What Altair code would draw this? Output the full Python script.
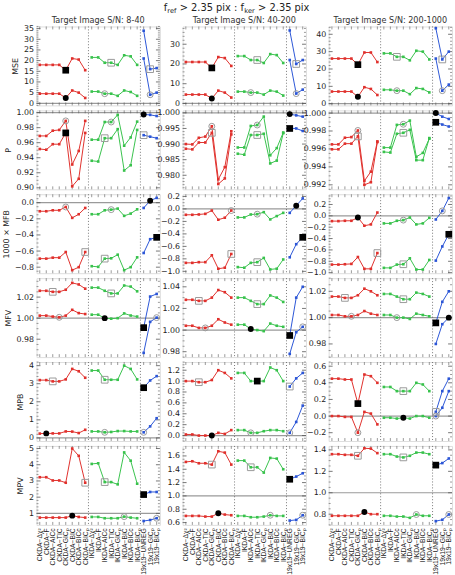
import altair as alt
import pandas as pd

FONT = "DejaVu Sans"
LABEL_FONT = "Liberation Sans"

LABELS = ["CKDA−Δχ²", "CKDA−F", "CKDA−AICc", "CKDA−TIC", "CKDA−GICₚ", "CKDA−BIC", "CKDA−BICc", "CKDA−BICₚ",
          "IKDA−Δχ²", "IKDA−F", "IKDA−AICc", "IKDA−TIC", "IKDA−GICₚ", "IKDA−BIC", "IKDA−BICc", "IKDA−BICₚ",
          "19x19−UNREG", "19x19−GICₚ", "19x19−BICₚ"]
GROUP = ["CKDA"] * 8 + ["IKDA"] * 8 + ["19x19"] * 3
GROUP_NAMES = ["CKDA", "IKDA", "19x19"]
GROUP_COLORS = ["#e0302c", "#38c24c", "#2b55d6"]
SEPARATORS = [7.5, 15.5]

ROWS = ["MSE", "P", "MFB", "MFV", "MPB", "MPV"]
ROW_TITLES = ["MSE", "P", "1000 × MFB", "MFV", "MPB", "MPV"]
COLUMN_TITLES = ["Target Image S/N: 8-40", "Target Image S/N: 40-200", "Target Image S/N: 200-1000"]
REFERENCE = {"MSE": 0, "P": 1, "MFB": 0, "MFV": 1, "MPB": 0, "MPV": 1}
# marker shape of the upper / lower curve of each statistic
SHAPE_HI = {"MSE": "square", "P": "circle", "MFB": "circle", "MFV": "square", "MPB": "square", "MPV": "square"}

# ---- MSE ----
MSE1_HI = [18, 18, 18, 18, 15.5, 21, 20.5, 15.5, 21.5, 21.5, 19, 19, 18, 22.5, 22, 18, 34, 16, 16.5]
MSE1_LO = [4.5, 4.5, 4.5, 4.5, 2.5, 6, 5, 2.5, 5.5, 5.5, 4.5, 4.5, 3.5, 6, 5.3, 3.5, 21, 4, 5]
MSE2_HI = [21, 21, 21, 21, 18, 23.5, 23, 19, 24, 24, 22, 22, 20.5, 25, 24.5, 20.5, 37, 20, 22]
MSE2_LO = [4.5, 4.5, 4.5, 4.5, 2.5, 6.5, 5.5, 3, 6, 6, 5.5, 5.5, 4.5, 6.5, 6, 4, 22, 5, 7]
MSE3_HI = [26, 26, 26, 26, 22.5, 29.5, 29.5, 24, 29, 29, 27, 27, 25, 30.5, 30, 25.5, 43.5, 25.5, 30]
MSE3_LO = [7, 7, 7, 7, 4, 9.5, 8.5, 5, 8, 8, 7.5, 7.5, 5.5, 9, 8.5, 6.5, 26, 7.5, 11]

# ---- P ----
P1_HI = [0.969, 0.969, 0.976, 0.977, 0.989, 0.931, 0.949, 0.989, 0.964, 0.964, 0.9875, 0.9875, 0.997, 0.956, 0.967, 0.988, 0.9975, 0.997, 0.9955]
P1_LO = [0.9516, 0.9507, 0.958, 0.958, 0.973, 0.902, 0.912, 0.973, 0.936, 0.935, 0.966, 0.966, 0.978, 0.923, 0.930, 0.977, 0.970, 0.968, 0.966]
P2_HI = [0.9900, 0.9899, 0.9920, 0.9924, 0.9957, 0.9787, 0.9826, 0.9941, 0.9889, 0.9889, 0.9958, 0.9961, 0.9988, 0.9864, 0.9887, 0.9937, 0.9996, 0.9992, 0.9988]
P2_LO = [0.9885, 0.9883, 0.9905, 0.9905, 0.9936, 0.9772, 0.9790, 0.9931, 0.9869, 0.9866, 0.9929, 0.9929, 0.9933, 0.9838, 0.9847, 0.9935, 0.9950, 0.9950, 0.9942]
P3_HI = [0.99651, 0.99651, 0.99725, 0.99732, 0.99806, 0.99244, 0.99347, 0.99684, 0.99615, 0.99615, 0.99868, 0.99875, 0.99916, 0.99512, 0.99556, 0.99714, 1.0000, 0.9996, 0.99934]
P3_LO = [0.99596, 0.99596, 0.99659, 0.99659, 0.9974, 0.9920, 0.99229, 0.99677, 0.99567, 0.9956, 0.99769, 0.9978, 0.99813, 0.99475, 0.99475, 0.99721, 0.99897, 0.99872, 0.9985]

# ---- 1000 x MFB ----
MFB1_HI = [-0.106, -0.106, -0.094, -0.094, -0.053, -0.188, -0.143, -0.065, -0.143, -0.143, -0.094, -0.086, -0.073, -0.163, -0.135, -0.082, -0.065, 0.025, 0.06]
MFB1_LO = [-0.694, -0.694, -0.682, -0.682, -0.612, -0.837, -0.80, -0.612, -0.788, -0.796, -0.694, -0.69, -0.645, -0.837, -0.80, -0.678, -0.624, -0.453, -0.43]
MFB2_HI = [-0.094, -0.094, -0.089, -0.079, -0.026, -0.173, -0.141, -0.026, -0.136, -0.136, -0.089, -0.084, -0.052, -0.168, -0.115, -0.063, -0.063, 0.052, 0.168]
MFB2_LO = [-0.864, -0.864, -0.853, -0.853, -0.743, -0.958, -0.942, -0.722, -0.932, -0.942, -0.864, -0.853, -0.785, -0.969, -0.958, -0.81, -0.775, -0.565, -0.455]
MFB3_HI = [-0.093, -0.093, -0.087, -0.087, -0.029, -0.174, -0.151, 0.058, -0.133, -0.133, -0.087, -0.075, -0.029, -0.151, -0.133, -0.035, -0.064, 0.087, 0.313]
MFB3_LO = [-0.858, -0.858, -0.852, -0.846, -0.725, -0.933, -0.933, -0.655, -0.916, -0.916, -0.858, -0.852, -0.748, -0.945, -0.945, -0.777, -0.788, -0.539, -0.325]

# ---- MFV ----
MFV1_HI = [1.026, 1.026, 1.025, 1.025, 1.027, 1.0335, 1.032, 1.028, 1.029, 1.029, 1.026, 1.0235, 1.0235, 1.031, 1.030, 1.0255, 0.991, 1.0205, 1.023]
MFV1_LO = [1.0024, 1.0024, 1.0015, 1.0008, 1.0024, 1.0079, 1.0048, 1.0039, 1.0033, 1.0033, 1.0, 0.9995, 1.0, 1.0045, 1.0025, 1.0015, 0.967, 0.9965, 1.0005]
MFV2_HI = [1.028, 1.028, 1.027, 1.027, 1.030, 1.037, 1.035, 1.030, 1.030, 1.030, 1.027, 1.024, 1.024, 1.032, 1.030, 1.026, 0.995, 1.030, 1.040]
MFV2_LO = [1.004, 1.004, 1.002, 1.002, 1.004, 1.010, 1.007, 1.005, 1.005, 1.005, 1.001, 1.000, 0.999, 1.006, 1.004, 1.003, 0.978, 0.998, 1.003]
MFV3_HI = [1.016, 1.016, 1.015, 1.015, 1.017, 1.022, 1.020, 1.017, 1.018, 1.018, 1.016, 1.014, 1.014, 1.019, 1.018, 1.016, 0.996, 1.012, 1.020]
MFV3_LO = [1.002, 1.002, 1.001, 1.001, 1.002, 1.005, 1.003, 1.002, 1.002, 1.002, 1.000, 1.000, 0.999, 1.003, 1.002, 1.001, 0.980, 0.995, 1.000]

# ---- MPB ----
MPB1_HI = [3.2, 3.2, 3.13, 3.13, 3.24, 3.82, 3.69, 3.33, 3.73, 3.73, 3.22, 3.22, 3.22, 4.0, 3.82, 3.24, 2.78, 3.18, 3.42]
MPB1_LO = [0.24, 0.25, 0.25, 0.25, 0.36, 0.35, 0.27, 0.45, 0.36, 0.36, 0.31, 0.33, 0.38, 0.38, 0.36, 0.36, 0.31, 0.64, 1.09]
MPB2_HI = [1.0, 1.0, 0.98, 0.98, 1.02, 1.2, 1.15, 1.05, 1.15, 1.15, 1.0, 1.0, 1.0, 1.25, 1.2, 1.0, 0.9, 1.05, 1.15]
MPB2_LO = [0.02, 0.02, 0.0, 0.0, 0.0, 0.05, 0.03, 0.1, 0.1, 0.1, 0.05, 0.05, 0.08, 0.1, 0.1, 0.08, 0.05, 0.25, 0.55]
MPB3_HI = [0.45, 0.45, 0.44, 0.44, 0.15, 0.5, 0.48, 0.4, 0.35, 0.35, 0.3, 0.3, 0.3, 0.4, 0.38, 0.3, 0.05, 0.3, 0.45]
MPB3_LO = [0.0, 0.0, -0.01, -0.01, -0.2, 0.05, 0.03, -0.1, -0.02, -0.02, -0.03, -0.02, -0.03, 0.0, 0.0, -0.02, 0.0, 0.1, 0.3]

# ---- MPV ----
MPV1_HI = [3.23, 3.23, 3.03, 3.03, 2.89, 5.0, 4.55, 2.89, 4.05, 4.09, 2.93, 2.93, 2.79, 4.76, 4.25, 2.83, 2.16, 2.32, 2.32]
MPV1_LO = [0.74, 0.74, 0.74, 0.74, 0.74, 0.86, 0.78, 0.74, 0.78, 0.78, 0.7, 0.7, 0.7, 0.8, 0.74, 0.7, 0.53, 0.59, 0.7]
MPV2_HI = [1.51, 1.52, 1.49, 1.49, 1.47, 1.67, 1.65, 1.47, 1.53, 1.53, 1.43, 1.43, 1.35, 1.57, 1.56, 1.40, 1.25, 1.29, 1.34]
MPV2_LO = [0.70, 0.70, 0.70, 0.69, 0.69, 0.74, 0.72, 0.71, 0.70, 0.70, 0.68, 0.68, 0.69, 0.71, 0.70, 0.70, 0.63, 0.64, 0.71]
MPV3_HI = [1.36, 1.36, 1.354, 1.354, 1.345, 1.415, 1.412, 1.37, 1.36, 1.36, 1.338, 1.33, 1.345, 1.375, 1.375, 1.36, 1.258, 1.277, 1.32]
MPV3_LO = [0.785, 0.785, 0.785, 0.785, 0.785, 0.82, 0.80, 0.80, 0.785, 0.785, 0.778, 0.778, 0.766, 0.797, 0.785, 0.785, 0.735, 0.748, 0.797]

SERIES = {
    "MSE": [(MSE1_HI, MSE1_LO), (MSE2_HI, MSE2_LO), (MSE3_HI, MSE3_LO)],
    "P": [(P1_HI, P1_LO), (P2_HI, P2_LO), (P3_HI, P3_LO)],
    "MFB": [(MFB1_HI, MFB1_LO), (MFB2_HI, MFB2_LO), (MFB3_HI, MFB3_LO)],
    "MFV": [(MFV1_HI, MFV1_LO), (MFV2_HI, MFV2_LO), (MFV3_HI, MFV3_LO)],
    "MPB": [(MPB1_HI, MPB1_LO), (MPB2_HI, MPB2_LO), (MPB3_HI, MPB3_LO)],
    "MPV": [(MPV1_HI, MPV1_LO), (MPV2_HI, MPV2_LO), (MPV3_HI, MPV3_LO)],
}

# best method of each family: (CKDA idx, IKDA idx, 19x19 idx, family drawn in black)
BEST = {
    "MSE": [((4, 11, 17, 0), (4, 10, 17, 0)), ((4, 11, 17, 0), (4, 10, 17, 0)), ((4, 10, 17, 0), (4, 10, 17, 0))],
    "P": [((4, 11, 16, 2), (4, 10, 16, 0)), ((4, 11, 16, 2), (4, 11, 16, 2)), ((4, 11, 16, 2), (4, 11, 16, 2))],
    "MFB": [((4, 11, 17, 2), (7, 10, 18, 2)), ((7, 11, 17, 2), (7, 11, 18, 2)), ((4, 11, 17, 0), (7, 11, 18, 2))],
    "MFV": [((2, 11, 16, 2), (3, 10, 18, 1)), ((2, 11, 16, 2), (3, 10, 18, 1)), ((2, 11, 16, 2), (3, 10, 18, 2))],
    "MPB": [((2, 10, 16, 2), (1, 10, 16, 0)), ((2, 11, 16, 1), (4, 10, 16, 0)), ((4, 11, 16, 0), (4, 11, 16, 1))],
    "MPV": [((7, 10, 16, 2), (5, 13, 18, 0)), ((4, 10, 16, 2), (5, 13, 18, 0)), ((4, 11, 16, 2), (5, 13, 18, 0))],
}

# y axis: (domain, labelled ticks, format)
AXES = {
    "MSE": [([-1, 36], [0, 5, 10, 15, 20, 25, 30, 35], "d"),
            ([-1, 39], [0, 10, 20, 30], "d"),
            ([-1, 44.5], [0, 10, 20, 30, 40], "d")],
    "P": [([0.898, 1.003], [0.90, 0.92, 0.94, 0.96, 0.98, 1.00], ".2f"),
          ([0.9755, 1.0008], [0.980, 0.985, 0.990, 0.995, 1.000], ".3f"),
          ([0.9915, 1.0003], [0.992, 0.994, 0.996, 0.998, 1.000], ".3f")],
    "MFB": [([-0.875, 0.105], [-0.8, -0.6, -0.4, -0.2, 0.0], ".1f"),
            ([-1.03, 0.235], [-1.0, -0.8, -0.6, -0.4, -0.2, 0.0, 0.2], ".1f"),
            ([-1.01, 0.38], [-1.0, -0.8, -0.6, -0.4, -0.2, 0.0, 0.2], ".1f")],
    "MFV": [([0.963, 1.038], [0.98, 1.00, 1.02], ".2f"),
            ([0.975, 1.048], [0.98, 1.00, 1.02, 1.04], ".2f"),
            ([0.97, 1.03], [0.98, 1.00, 1.02], ".2f")],
    "MPB": [([-0.17, 4.2], [0, 1, 2, 3, 4], "d"),
            ([-0.1, 1.35], [0.0, 0.2, 0.4, 0.6, 0.8, 1.0, 1.2], ".1f"),
            ([-0.3, 0.65], [-0.2, 0.0, 0.2, 0.4, 0.6], ".1f")],
    "MPV": [([0.29, 5.16], [1, 2, 3, 4, 5], "d"),
            ([0.565, 1.75], [0.6, 0.8, 1.0, 1.2, 1.4, 1.6], ".1f"),
            ([0.70, 1.437], [0.8, 1.0, 1.2, 1.4], ".1f")],
}

# headline over the middle column: (text, x offset, font size, baseline)
TITLE_PIECES = [("f", -19.0, 10.0, -16.0), ("ref", -15.5, 6.8, -13.6), ("> 2.35 pix : f", -3.0, 10.0, -16.0),
                ("ker", 62.5, 6.8, -13.6), ("> 2.35 pix", 76.5, 10.0, -16.0)]

W, H = 125, 80
X_SCALE = alt.Scale(domain=[-0.5, 18.5], nice=False, zero=False)
COLOR = alt.Color("g:N", scale=alt.Scale(domain=GROUP_NAMES, range=GROUP_COLORS), legend=None)


def minor_ticks(dom, ticks):
    step = ticks[1] - ticks[0]
    n = 4 if f"{step:e}"[0] == "2" else 5
    sub = step / n
    out, k = [], 0
    start = ticks[0] - step
    while start + k * sub <= dom[1]:
        v = start + k * sub
        if v >= dom[0] and all(abs(v - t) > sub * 0.1 for t in ticks):
            out.append(round(v, 7))
        k += 1
    return out


def panel(r, c):
    key = ROWS[r]
    hi, lo = SERIES[key][c]
    dom, ticks, fmt = AXES[key][c]
    ticks = [t for t in ticks if dom[0] <= t <= dom[1]]
    bottom = r == len(ROWS) - 1

    if bottom:
        names = ",".join("'" + s + "'" for s in LABELS)
        xaxis = alt.Axis(values=list(range(19)), labelExpr="[" + names + "][datum.value]",
                         labelAngle=270, labelAlign="right", labelBaseline="middle",
                         labelFontSize=6.8, labelColor="#222", labelFont=LABEL_FONT, labelPadding=3,
                         labelOverlap=False, labelFlush=False, labelBound=False,
                         ticks=False, domain=False, grid=False, title=None)
    else:
        xaxis = None
    yaxis = alt.Axis(values=ticks, format=fmt, labelFontSize=8, labelColor="#222", labelFont=FONT,
                     labelPadding=3, ticks=False, domain=False, grid=False,
                     title=ROW_TITLES[r] if c == 0 else None, titleFontSize=8,
                     titleFontWeight="normal", titleFont=FONT, titleColor="#222", titlePadding=4)
    yscale = alt.Scale(domain=dom, nice=False, zero=False)

    def X(f):
        return alt.X(f, scale=X_SCALE, axis=xaxis, title=None)

    def Y(f):
        return alt.Y(f, scale=yscale, axis=yaxis)

    rows = []
    for s, vals in (("hi", hi), ("lo", lo)):
        for i, v in enumerate(vals):
            rows.append({"i": i, "v": v, "s": s, "g": GROUP[i], "k": GROUP[i] + s})
    df = pd.DataFrame(rows)

    marks = []
    shape_hi = SHAPE_HI[key]
    shape_lo = "circle" if shape_hi == "square" else "square"
    for vals, spec, shape in ((hi, BEST[key][c][0], shape_hi), (lo, BEST[key][c][1], shape_lo)):
        for gi, i in enumerate(spec[:3]):
            marks.append({"i": i, "v": vals[i], "shape": shape,
                          "kind": "black" if gi == spec[3] else "gray",
                          "sz": 46 if shape == "square" else 36})
    mk = pd.DataFrame(marks)

    major = pd.DataFrame({"t": ticks})
    minor = pd.DataFrame({"t": minor_ticks(dom, ticks)})
    xt = pd.DataFrame({"xt": list(range(19))})

    layers = [
        alt.Chart(pd.DataFrame({"ref": [REFERENCE[key]]})).mark_rule(color="#9a9a9a", strokeWidth=1.2)
        .encode(y=Y("ref:Q")),
        alt.Chart(pd.DataFrame({"sep": SEPARATORS})).mark_rule(color="#555", strokeWidth=0.8, strokeDash=[1, 2])
        .encode(x=X("sep:Q")),
        alt.Chart(major).mark_rule(color="#555", strokeWidth=0.8)
        .encode(y=Y("t:Q"), x=alt.value(0), x2=alt.value(4)),
        alt.Chart(major).mark_rule(color="#555", strokeWidth=0.8)
        .encode(y=Y("t:Q"), x=alt.value(W - 4), x2=alt.value(W)),
        alt.Chart(minor).mark_rule(color="#555", strokeWidth=0.6)
        .encode(y=Y("t:Q"), x=alt.value(0), x2=alt.value(2)),
        alt.Chart(minor).mark_rule(color="#555", strokeWidth=0.6)
        .encode(y=Y("t:Q"), x=alt.value(W - 2), x2=alt.value(W)),
        alt.Chart(xt).mark_rule(color="#555", strokeWidth=0.6)
        .encode(x=X("xt:Q"), y=alt.value(H), y2=alt.value(H - 3)),
        alt.Chart(xt).mark_rule(color="#555", strokeWidth=0.6)
        .encode(x=X("xt:Q"), y=alt.value(0), y2=alt.value(3)),
        alt.Chart(df).mark_line(strokeWidth=1)
        .encode(x=X("i:Q"), y=Y("v:Q"), color=COLOR, detail="k:N"),
        alt.Chart(df).mark_square(size=7, opacity=1)
        .encode(x=X("i:Q"), y=Y("v:Q"), color=COLOR),
        alt.Chart(mk).transform_filter("datum.kind == 'gray'")
        .mark_point(filled=False, color="#999", strokeWidth=1, opacity=1)
        .encode(x=X("i:Q"), y=Y("v:Q"), shape=alt.Shape("shape:N", scale=None),
                size=alt.Size("sz:Q", scale=None)),
        alt.Chart(mk).transform_filter("datum.kind == 'black'")
        .mark_point(filled=True, color="black", opacity=1)
        .encode(x=X("i:Q"), y=Y("v:Q"), shape=alt.Shape("shape:N", scale=None),
                size=alt.Size("sz:Q", scale=None)),
    ]

    if r == 0:
        # column heading
        layers.append(
            alt.Chart(pd.DataFrame({"t": [COLUMN_TITLES[c]]}))
            .mark_text(align="center", baseline="alphabetic", fontSize=8.2, font=FONT, color="#333")
            .encode(text="t:N", x=alt.value(W / 2), y=alt.value(-4))
        )
    if r == 0 and c == 1:
        for text, px, fs, py in TITLE_PIECES:
            layers.append(
                alt.Chart(pd.DataFrame({"t": [text]}))
                .mark_text(align="left", baseline="alphabetic", fontSize=fs, font=FONT, color="#222")
                .encode(text="t:N", x=alt.value(px), y=alt.value(py))
            )

    return alt.layer(*layers).properties(width=W, height=H)


charts = [panel(r, c) for r in range(len(ROWS)) for c in range(3)]

chart = (
    alt.concat(*charts, columns=3, spacing={"row": 5, "column": 23}, bounds="flush")
    .properties(padding={"left": 2, "top": -2, "right": 0, "bottom": 0})
    .configure_view(stroke="#777", strokeWidth=1)
    .configure(font=FONT, background="white")
)

chart.save("out.html", embed_options={"renderer": "svg", "actions": False})
